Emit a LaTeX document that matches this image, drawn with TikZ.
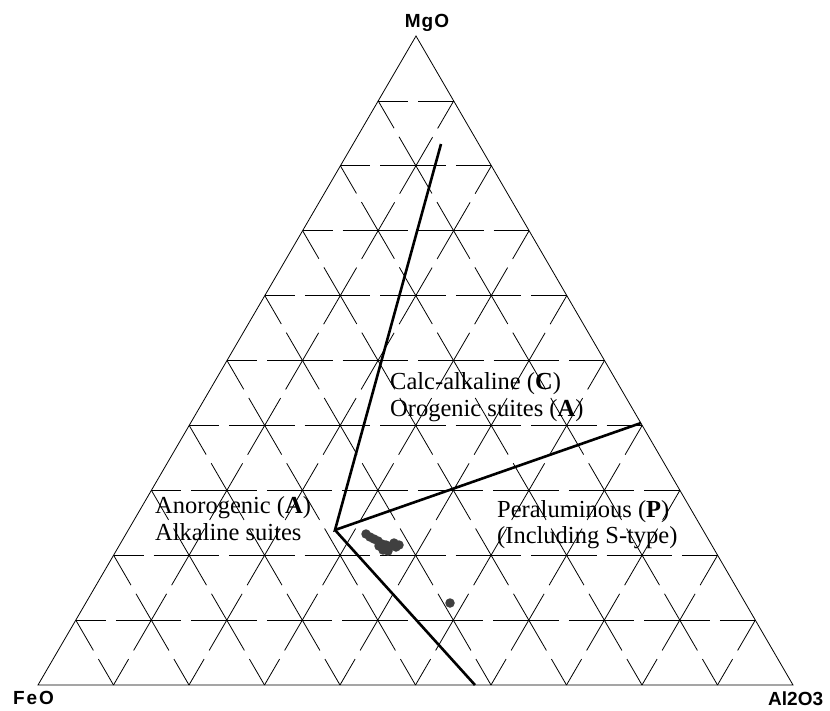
\documentclass[tikz,border=0pt]{standalone}
\usepackage{fontspec}
\setmainfont{Liberation Serif}
\newfontfamily\cornerfont{Liberation Sans}
\usetikzlibrary{calc}

\begin{document}
\begin{tikzpicture}[x=1pt,y=-1pt,
        grid line/.style={line width=0.8pt,dash pattern=on 65.5pt off 10pt,dash phase=35.5pt},
        field line/.style={line width=2.6pt},
        region label/.style={anchor=base west,inner sep=0pt,font=\fontsize{24.5}{27}\selectfont},
        corner label/.style={inner sep=0pt,font=\cornerfont\bfseries\fontsize{19}{22}\selectfont},
        sample/.style={circle,fill=black!75,inner sep=0pt,minimum size=9.5pt}]

        \useasboundingbox (0,0) rectangle (830,710);

        % Define corners
        \coordinate (FeO) at (38,685);
        \coordinate (Al2O3) at (793,685);
        \coordinate (MgO) at (416,36);

        % Draw grid
        \foreach \i in {1,...,9} {
            \draw[grid line] ($(FeO)!\i/10!(MgO)$) -- ($(Al2O3)!\i/10!(MgO)$);
            \draw[grid line] ($(FeO)!\i/10!(Al2O3)$) -- ($(MgO)!\i/10!(Al2O3)$);
            \draw[grid line] ($(FeO)!\i/10!(Al2O3)$) -- ($(FeO)!\i/10!(MgO)$);
        }
        \draw[line width=0.8pt] (FeO) -- (Al2O3) -- (MgO) -- cycle;

        % Corner labels
        \node[corner label,anchor=base] (mgo) at (427,27) {\addfontfeatures{LetterSpace=5}MgO};
        \node[corner label,anchor=base west] (feo) at (13,704) {\addfontfeatures{LetterSpace=10}FeO};
        \node[corner label,anchor=base west] (al) at (768,705) {Al2O3};

        % Field boundaries
        \coordinate (top) at (441,144);
        \coordinate (J) at (335,530);
        \coordinate (right) at (641,423);
        \coordinate (bottom) at (475,685);
        \draw[field line] (top) -- (J) -- (right);
        \draw[field line] (J) -- (bottom);

        % Field labels
        \node[region label] (calc) at (390,389) {Calc-alkaline (\textbf{C})};
        \node[region label] (orog) at (390,416) {Orogenic suites (\textbf{A})};
        \node[region label] (anor) at (155,513) {Anorogenic (\textbf{A})};
        \node[region label] (alk) at (155,540) {Alkaline suites};
        \node[region label] (per) at (497,517) {Peraluminous (\textbf{P})};
        \node[region label] (incl) at (497,543) {(Including S-type)};

        % Samples
        \foreach \x/\y [count=\n] in {366/534,370/537,374/539,378/541,382/544,386/545,391/546,
                                      396/547,399/545,383/550,388/551,394/543,379/546,450/603}
            \node[sample] (s\n) at (\x,\y) {};

        \end{tikzpicture}
\end{document}
